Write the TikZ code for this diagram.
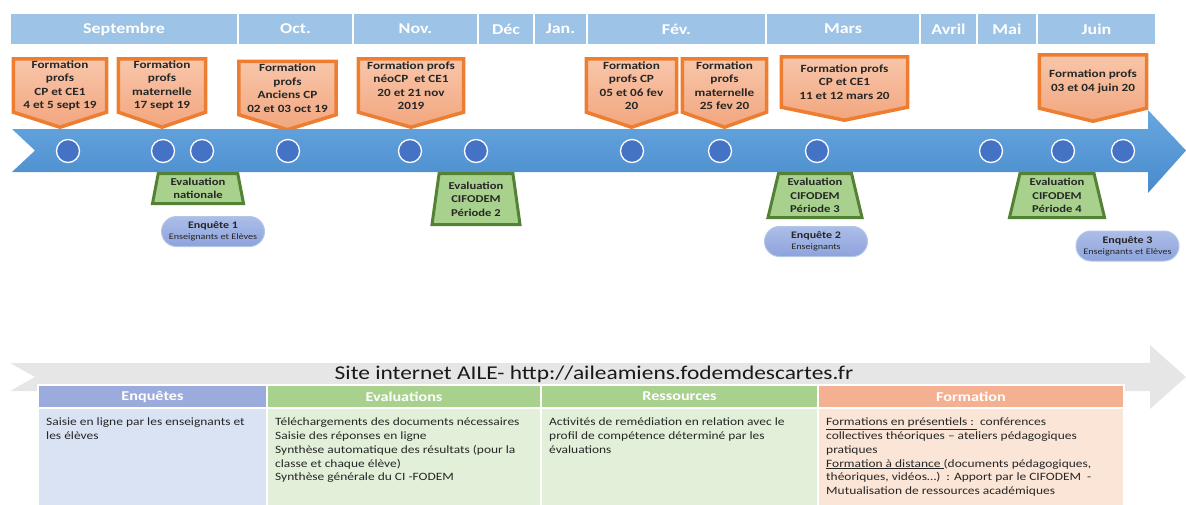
\documentclass[tikz,border=0pt]{standalone}
\usepackage{fontspec}
\setmainfont{Carlito}[FakeStretch=1.2]
\usetikzlibrary{positioning,shapes.geometric,backgrounds}
\definecolor{MonthBlue}{RGB}{157,195,230}
\definecolor{ArrowTop}{RGB}{104,167,223}
\definecolor{ArrowBot}{RGB}{72,138,204}
\definecolor{DotBlue}{RGB}{68,114,196}
\definecolor{FormOrange}{RGB}{237,125,49}
\definecolor{FormTop}{RGB}{248,198,170}
\definecolor{FormBot}{RGB}{242,166,126}
\definecolor{EvalGreen}{RGB}{84,130,53}
\definecolor{EvalFill}{RGB}{169,209,142}
\definecolor{PillTop}{RGB}{172,189,232}
\definecolor{PillBot}{RGB}{141,163,220}
\definecolor{PillLine}{RGB}{180,199,231}
\definecolor{SiteGray}{RGB}{231,230,230}
\definecolor{EnqHead}{RGB}{155,172,220}
\definecolor{EnqBody}{RGB}{218,227,243}
\definecolor{EvHead}{RGB}{169,209,142}
\definecolor{EvBody}{RGB}{226,240,217}
\definecolor{FoHead}{RGB}{244,177,145}
\definecolor{FoBody}{RGB}{251,229,214}
\newcommand{\surveytext}[2]{{\fontsize{10}{12}\selectfont\bfseries #1}\\[-1pt]{\fontsize{8.5}{10}\selectfont #2}}
\tikzset{
  month/.style={draw=white, line width=1.5pt, fill=MonthBlue, outer sep=0pt,
    minimum height=32pt, text=white, font=\fontsize{15}{18}\selectfont\bfseries},
  formtext/.style={align=center, inner sep=0pt, text=black!85,
    font=\fontsize{11}{13.5}\selectfont\bfseries},
  formshape/.style={draw=FormOrange, line width=3.5pt, top color=FormTop, bottom color=FormBot},
  dot/.style={circle, draw=white, line width=1.3pt, fill=DotBlue,
    minimum size=23pt, inner sep=0pt},
  evalbox/.style={trapezium, trapezium angle=76, trapezium stretches body,
    draw=EvalGreen, line width=3pt, fill=EvalFill, align=center, inner sep=1pt,
    text=black!85, font=\fontsize{10.5}{13.5}\selectfont\bfseries},
  survey/.style={rounded corners=15pt, draw=PillLine, line width=1pt,
    top color=PillTop, bottom color=PillBot, minimum width=103pt,
    minimum height=30pt, align=center, inner sep=0pt, text=black!85},
  thead/.style={draw=white, line width=1.5pt, outer sep=0pt, minimum height=23pt,
    text=white, font=\fontsize{13.5}{16}\selectfont\bfseries},
  tbody/.style={draw=white, line width=1.5pt, outer sep=0pt, minimum height=100pt},
  ttext/.style={anchor=north west, align=left, inner sep=0pt, text=black!85,
    font=\fontsize{11.2}{13.7}\selectfont}
}
\begin{document}
\begin{tikzpicture}[x=1pt, y=-1pt]
\useasboundingbox (0,0) rectangle (1186,504);

% months
\node[month, minimum width=228pt] (sept) at (124,29) {Septembre};
\node[month, minimum width=115pt, right=0pt of sept] (oct) {Oct.};
\node[month, minimum width=125pt, right=0pt of oct] (nov) {Nov.};
\node[month, minimum width=56pt, right=0pt of nov] (dec) {Déc};
\node[month, minimum width=53pt, right=0pt of dec] (jan) {Jan.};
\node[month, minimum width=179pt, right=0pt of jan] (fev) {Fév.};
\node[month, minimum width=154pt, right=0pt of fev] (mars) {Mars};
\node[month, minimum width=57pt, right=0pt of mars] (avril) {Avril};
\node[month, minimum width=60pt, right=0pt of avril] (mai) {Mai};
\node[month, minimum width=119pt, right=0pt of mai] (juin) {Juin};

% trainings
\node[formtext, minimum width=93pt, minimum height=53pt] (f1) at (60,85.5) {Formation\\profs\\CP et CE1\\4 et 5 sept 19};
\node[formtext, minimum width=87pt, minimum height=53pt] (f2) at (162,85.5) {Formation\\profs\\maternelle\\17 sept 19};
\node[formtext, minimum width=97pt, minimum height=53pt] (f3) at (287.5,88) {Formation\\profs\\Anciens CP\\02 et 03 oct 19};
\node[formtext, minimum width=105pt, minimum height=53pt] (f4) at (411,85.5) {Formation profs\\néoCP\ \ et CE1\\20 et 21 nov\\2019};
\node[formtext, minimum width=90pt, minimum height=53pt] (f5) at (631.5,85.5) {Formation\\profs CP\\05 et 06 fev\\20};
\node[formtext, minimum width=84pt, minimum height=53pt] (f6) at (724.5,85.5) {Formation\\profs\\maternelle\\25 fev 20};
\node[formtext, minimum width=126pt, minimum height=50pt] (f7) at (844.5,82) {Formation profs\\CP et CE1\\11 et 12 mars 20};
\node[formtext, minimum width=107pt, minimum height=53pt] (f8) at (1093,81.5) {Formation profs\\03 et 04 juin 20};
\begin{scope}[on background layer]
  \foreach \n/\t in {f1/15pt,f2/15pt,f3/15pt,f4/15pt,f5/15pt,f6/15pt,f7/13pt,f8/13pt}
    \draw[formshape] (\n.north west) -- (\n.north east) -- (\n.south east)
      -- ([yshift=-\t]\n.south) -- (\n.south west) -- cycle;
\end{scope}

% timeline
\path[top color=ArrowTop, bottom color=ArrowBot] (12,129) -- (1148,129) -- (1148,110)
  -- (1186,150.5) -- (1148,193) -- (1148,172) -- (12,172) -- (35,150.5) -- cycle;
\foreach \x [count=\i] in {68,163,202,288,410,476,632,720,817,991,1063,1123}
  \node[dot] (d\i) at (\x,151) {};

% evaluations
\node[evalbox, minimum width=91pt, minimum height=30pt] (ev1) at (198,188.5) {Evaluation\\nationale};
\node[evalbox, trapezium angle=79, minimum width=88pt, minimum height=51pt] (ev2) at (476,199) {Evaluation\\CIFODEM\\Période 2};
\node[evalbox, trapezium angle=74, minimum width=94pt, minimum height=44pt] (ev3) at (815,195.5) {Evaluation\\CIFODEM\\Période 3};
\node[evalbox, trapezium angle=74, minimum width=95pt, minimum height=44pt] (ev4) at (1057,195.5) {Evaluation\\CIFODEM\\Période 4};

% surveys
\node[survey] (enq1) at (213,231.5) {\surveytext{Enquête 1}{Enseignants et Elèves}};
\node[survey] (enq2) at (816,241.5) {\surveytext{Enquête 2}{Enseignants}};
\node[survey] (enq3) at (1127.5,246) {\surveytext{Enquête 3}{Enseignants et Elèves}};

% website
\fill[SiteGray] (10,363) -- (1150,363) -- (1150,345) -- (1186,377) -- (1150,409)
  -- (1150,391) -- (10,391) -- (35,377) -- cycle;
\node[font=\fontsize{19.5}{22}\selectfont, text=black!90] (site) at (594,374) {Site internet AILE- http://aileamiens.fodemdescartes.fr};

% table
\node[thead, fill=EnqHead, minimum width=229pt] (hEnq) at (152.5,396.5) {Enquêtes};
\node[thead, fill=EvHead, minimum width=274pt, right=0pt of hEnq] (hEval) {Evaluations};
\node[thead, fill=EvHead, minimum width=277pt, right=0pt of hEval] (hRes) {Ressources};
\node[thead, fill=FoHead, minimum width=306pt, right=0pt of hRes] (hForm) {Formation};
\node[tbody, fill=EnqBody, minimum width=229pt, below=0pt of hEnq] (bEnq) {};
\node[tbody, fill=EvBody, minimum width=274pt, below=0pt of hEval] (bEval) {};
\node[tbody, fill=EvBody, minimum width=277pt, below=0pt of hRes] (bRes) {};
\node[tbody, fill=FoBody, minimum width=306pt, below=0pt of hForm] (bForm) {};
\node[ttext] (tEnq) at ([xshift=8pt,yshift=-10pt]bEnq.north west) {Saisie en ligne par les enseignants et\\les élèves};
\node[ttext] (tEval) at ([xshift=8pt,yshift=-10pt]bEval.north west) {Téléchargements des documents nécessaires\\Saisie des réponses en ligne\\Synthèse automatique des résultats (pour la\\classe et chaque élève)\\Synthèse générale du CI -FODEM};
\node[ttext] (tRes) at ([xshift=8pt,yshift=-10pt]bRes.north west) {Activités de remédiation en relation avec le\\profil de compétence déterminé par les\\évaluations};
\node[ttext] (tForm) at ([xshift=8pt,yshift=-10pt]bForm.north west) {\underline{Formations en présentiels :~}~conférences\\collectives théoriques -- ateliers pédagogiques\\pratiques\\\underline{Formation à distance~}(documents pédagogiques,\\théoriques, vidéos…)~ : Apport par le CIFODEM~ -\\Mutualisation de ressources académiques};
\end{tikzpicture}
\end{document}
